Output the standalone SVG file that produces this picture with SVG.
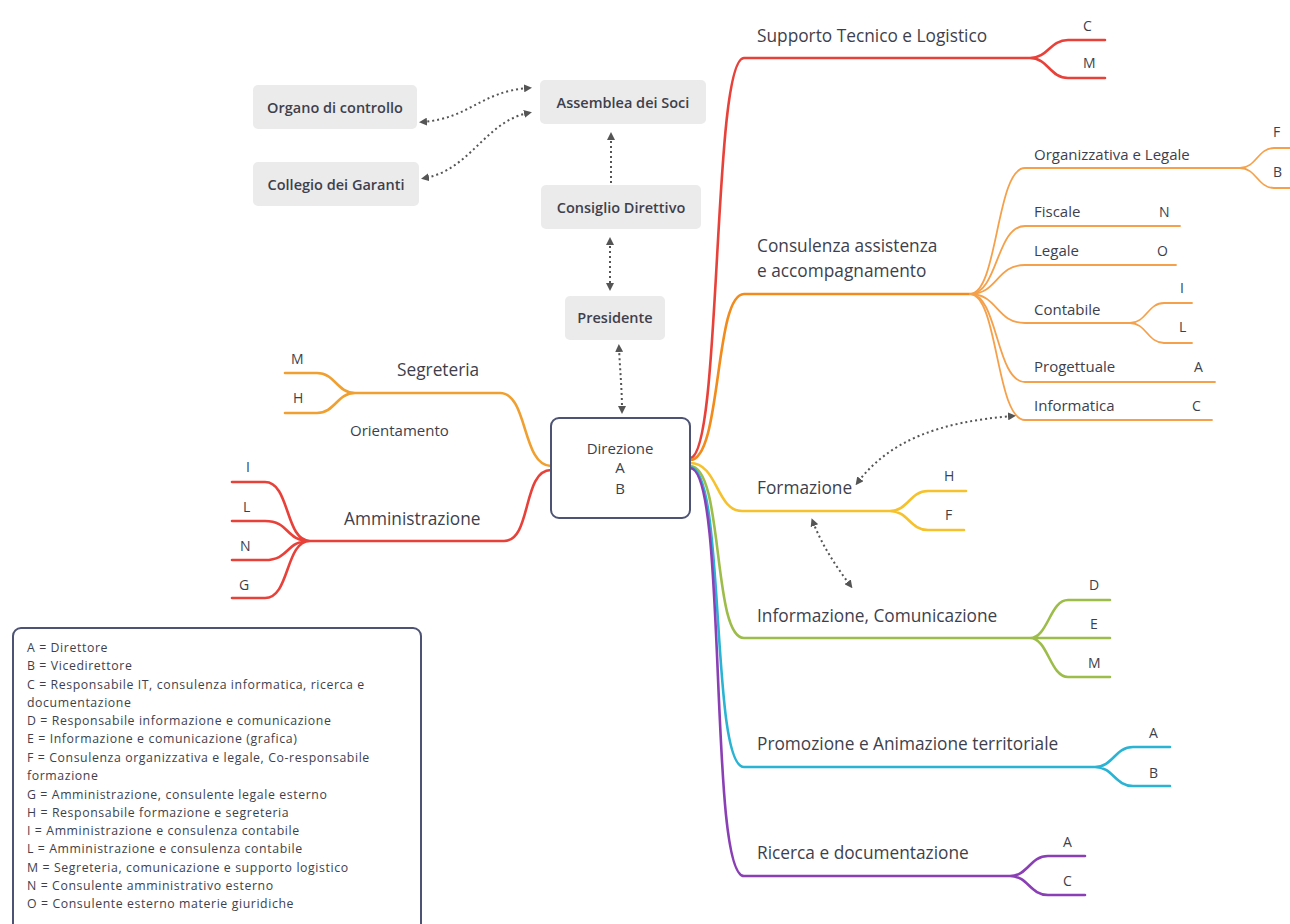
<svg xmlns="http://www.w3.org/2000/svg" width="1290" height="924" viewBox="0 0 1290 924">
<style>
text{font-family:"Open Sans","Liberation Sans",sans-serif;fill:#3e3f4c}
.main{font-size:17.3px}
.sub{font-size:15px}
.leaf{font-size:14px}
.box{fill:#ebebeb}
.boxt{font-size:14.5px;font-weight:600;text-anchor:middle}
.root{font-size:15px;text-anchor:middle}
.leg{font-size:12.3px;letter-spacing:0.6px}
.br{fill:none;stroke-linecap:round;stroke-linejoin:round}
.dot{fill:none;stroke:#555;stroke-width:2;stroke-dasharray:2 3}
</style>
<defs>
<marker id="ah" viewBox="0 0 10 10" refX="5" refY="5" markerWidth="4" markerHeight="4" orient="auto-start-reverse">
<path d="M0,0 L10,5 L0,10 z" fill="#555"/>
</marker>
</defs>
<rect width="1290" height="924" fill="#fff"/>

<g id="connectors">
<g class="br" stroke-width="2.6">
<path stroke="#e8413a" d="M690,458 C722,458 712,58 744,58 H1030 M1030,58 C1048,58 1050,40 1068,40 H1105 M1030,58 C1048,58 1050,78 1068,78 H1105"/>
<path stroke="#f28a1c" d="M690,460 C722,460 714,294 744,294 H970"/>
<path stroke="#f5c12c" d="M690,463 C718,463 716,511 742,511 H890 M890,511 C908,511 910,491 928,491 H966 M890,511 C908,511 910,530 928,530 H964"/>
<path stroke="#9dbd4a" d="M690,466 C724,466 712,638 744,638 H1030 M1030,638 C1048,638 1050,600 1068,600 H1110 M1030,638 H1110 M1030,638 C1048,638 1050,677 1068,677 H1110"/>
<path stroke="#2bb3d4" d="M690,467 C726,467 710,767 744,767 H1095 M1095,767 C1113,767 1115,747 1133,747 H1170 M1095,767 C1113,767 1115,786 1133,786 H1170"/>
<path stroke="#8a3fb5" d="M690,468 C728,468 708,876 744,876 H1010 M1010,876 C1028,876 1030,856 1048,856 H1085 M1010,876 C1028,876 1030,895 1048,895 H1085"/>
</g>
<g class="br" stroke="#f5a04a" stroke-width="1.8">
<path d="M970,294 C998,294 996,168 1025,168 H1240 M1240,168 C1256,168 1258,148 1274,148 H1290 M1240,168 C1256,168 1258,188 1274,188 H1290"/>
<path d="M970,294 C998,294 996,226 1025,226 H1180"/>
<path d="M970,294 C998,294 996,265 1025,265 H1176"/>
<path d="M970,294 C998,294 996,323 1025,323 H1130 M1130,323 C1146,323 1148,303 1164,303 H1192 M1130,323 C1146,323 1148,343 1164,343 H1192"/>
<path d="M970,294 C998,294 996,382 1025,382 H1215"/>
<path d="M970,294 C998,294 996,420 1025,420 H1212"/>
</g>
<g class="br" stroke-width="2.6">
<path stroke="#f0a030" d="M551,466 C522,466 528,393 500,393 H355 M355,393 C337,393 335,373 317,373 H285 M355,393 C337,393 335,413 317,413 H285"/>
<path stroke="#e8413a" d="M551,470 C522,470 532,541 504,541 H310 M310,541 C285,541 290,482 265,482 H232 M310,541 C285,541 290,521 265,521 H232 M310,541 C285,541 290,560 265,560 H232 M310,541 C285,541 290,598 265,598 H232"/>
</g>
<path class="dot" marker-start="url(#ah)" marker-end="url(#ah)" d="M528,88 C480,92 470,118 423,122"/>
<path class="dot" marker-start="url(#ah)" marker-end="url(#ah)" d="M528,113 C485,122 470,170 425,178"/>
<path class="dot" marker-start="url(#ah)" marker-end="url(#ah)" d="M611,136 V193"/>
<path class="dot" marker-start="url(#ah)" marker-end="url(#ah)" d="M610,241 V287"/>
<path class="dot" marker-start="url(#ah)" marker-end="url(#ah)" d="M619,348 C620,370 622,390 622,410"/>
<path class="dot" marker-start="url(#ah)" marker-end="url(#ah)" d="M1012,416 C940,422 890,440 858,482"/>
<path class="dot" marker-start="url(#ah)" marker-end="url(#ah)" d="M813,522 C822,545 835,565 850,585"/>
</g>

<g id="direzione">
<rect x="551" y="418" width="139" height="100" rx="8" fill="#fff" stroke="#4c5373" stroke-width="2"/>
<text x="620" y="454" class="root">Direzione</text>
<text x="620" y="473" class="root">A</text>
<text x="620" y="494" class="root">B</text>
</g>

<g id="organo"><rect class="box" x="253" y="85" width="164" height="44" rx="5"/><text class="boxt" x="335" y="113">Organo di controllo</text></g>
<g id="collegio"><rect class="box" x="253" y="162" width="166" height="44" rx="5"/><text class="boxt" x="336" y="190">Collegio dei Garanti</text></g>
<g id="assemblea"><rect class="box" x="540" y="80" width="166" height="44" rx="5"/><text class="boxt" x="623" y="108">Assemblea dei Soci</text></g>
<g id="consiglio"><rect class="box" x="541" y="185" width="160" height="44" rx="5"/><text class="boxt" x="621" y="213">Consiglio Direttivo</text></g>
<g id="presidente"><rect class="box" x="565" y="296" width="100" height="44" rx="5"/><text class="boxt" x="615" y="323">Presidente</text></g>

<g id="supporto">
<text class="main" x="757" y="42">Supporto Tecnico e Logistico</text>
<text class="leaf" x="1083" y="31">C</text><text class="leaf" x="1083" y="68">M</text>
</g>
<g id="consulenza">
<text class="main" x="757" y="252">Consulenza assistenza</text>
<text class="main" x="757" y="277">e accompagnamento</text>
</g>
<g id="organizzativa"><text class="sub" x="1034" y="160">Organizzativa e Legale</text><text class="leaf" x="1273" y="137">F</text><text class="leaf" x="1273" y="177">B</text></g>
<g id="fiscale"><text class="sub" x="1034" y="217">Fiscale</text><text class="leaf" x="1159" y="217">N</text></g>
<g id="legale"><text class="sub" x="1034" y="256">Legale</text><text class="leaf" x="1157" y="256">O</text></g>
<g id="contabile"><text class="sub" x="1034" y="315">Contabile</text><text class="leaf" x="1180" y="293">I</text><text class="leaf" x="1179" y="332">L</text></g>
<g id="progettuale"><text class="sub" x="1034" y="372">Progettuale</text><text class="leaf" x="1194" y="372">A</text></g>
<g id="informatica"><text class="sub" x="1034" y="411">Informatica</text><text class="leaf" x="1192" y="411">C</text></g>
<g id="formazione">
<text class="main" x="757" y="494">Formazione</text>
<text class="leaf" x="944" y="481">H</text><text class="leaf" x="945" y="520">F</text>
</g>
<g id="informazione">
<text class="main" x="757" y="622">Informazione, Comunicazione</text>
<text class="leaf" x="1089" y="590">D</text><text class="leaf" x="1090" y="629">E</text><text class="leaf" x="1088" y="668">M</text>
</g>
<g id="promozione">
<text class="main" x="757" y="750">Promozione e Animazione territoriale</text>
<text class="leaf" x="1149" y="738">A</text><text class="leaf" x="1149" y="778">B</text>
</g>
<g id="ricerca">
<text class="main" x="757" y="859">Ricerca e documentazione</text>
<text class="leaf" x="1063" y="847">A</text><text class="leaf" x="1063" y="886">C</text>
</g>
<g id="segreteria">
<text class="main" x="397" y="376">Segreteria</text>
<text class="leaf" x="291" y="364">M</text><text class="leaf" x="293" y="403">H</text>
<text class="sub" x="350" y="436">Orientamento</text>
</g>
<g id="amministrazione">
<text class="main" x="344" y="525">Amministrazione</text>
<text class="leaf" x="246" y="472">I</text><text class="leaf" x="243" y="512">L</text><text class="leaf" x="240" y="551">N</text><text class="leaf" x="239" y="590">G</text>
</g>

<g id="legenda">
<rect x="13" y="628" width="408" height="310" rx="8" fill="#fff" stroke="#4c5373" stroke-width="2"/>
<text class="leg" x="27" y="652">A = Direttore</text>
<text class="leg" x="27" y="670">B = Vicedirettore</text>
<text class="leg" x="27" y="689">C = Responsabile IT, consulenza informatica, ricerca e</text>
<text class="leg" x="27" y="707">documentazione</text>
<text class="leg" x="27" y="725">D  = Responsabile informazione e comunicazione</text>
<text class="leg" x="27" y="743">E = Informazione e comunicazione (grafica)</text>
<text class="leg" x="27" y="762">F = Consulenza organizzativa e legale, Co-responsabile</text>
<text class="leg" x="27" y="780">formazione</text>
<text class="leg" x="27" y="799">G = Amministrazione, consulente legale esterno</text>
<text class="leg" x="27" y="817">H = Responsabile formazione e segreteria</text>
<text class="leg" x="27" y="835">I = Amministrazione e consulenza contabile</text>
<text class="leg" x="27" y="853">L = Amministrazione e consulenza contabile</text>
<text class="leg" x="27" y="872">M = Segreteria, comunicazione e supporto logistico</text>
<text class="leg" x="27" y="890">N = Consulente amministrativo esterno</text>
<text class="leg" x="27" y="908">O = Consulente esterno materie giuridiche</text>
</g>
</svg>
